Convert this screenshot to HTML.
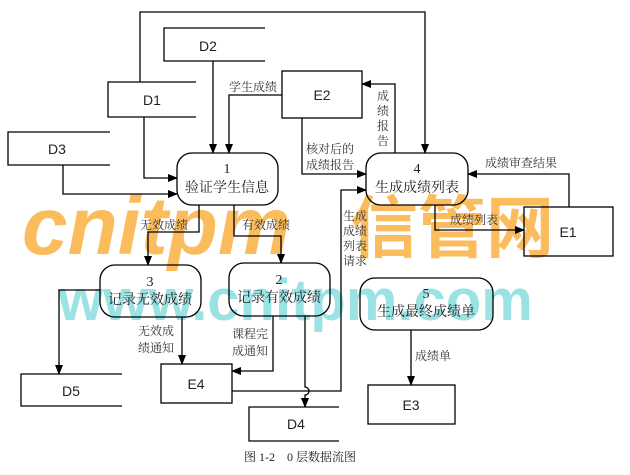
<!DOCTYPE html>
<html><head><meta charset="utf-8"><style>
html,body{margin:0;padding:0;background:#fff;}
svg{display:block;}
text{font-family:"Liberation Serif","Noto Serif CJK SC","Noto Sans CJK SC",serif;fill:#222;}
.s{font-family:"Liberation Sans",sans-serif;font-size:14px;}
.l{font-size:12px;fill:#333;}
.p{font-size:14px;}
</style></head><body>
<svg width="630" height="475" viewBox="0 0 630 475" xmlns="http://www.w3.org/2000/svg">
<defs><marker id="a" markerWidth="10" markerHeight="8" refX="9" refY="4" orient="auto" markerUnits="userSpaceOnUse"><path d="M0,0 L10,4 L0,8 z" fill="#000"/></marker></defs>
<!-- watermark -->
<text x="22" y="254" style="font-family:'Liberation Sans',sans-serif;font-weight:bold;font-style:italic;font-size:82px;fill:#f8a11a;opacity:0.7">cnitpm</text>
<text x="350" y="252" style="font-family:'Noto Sans CJK SC',sans-serif;font-weight:bold;font-size:68px;fill:#f8a11a;opacity:0.7">信管网</text>
<text x="58" y="320" style="font-family:'Liberation Sans',sans-serif;font-weight:bold;font-size:58px;fill:#38c6c8;opacity:0.5">www.cnitpm.com</text>
<g fill="none" stroke="#000" stroke-width="1.3">
<path d="M265,28 H164 V61 H265"/>
<path d="M196,82 H108 V117 H196"/>
<path d="M110,132 H8 V165 H110"/>
<path d="M122,374 H21 V406 H122"/>
<path d="M339,407 H249 V441 H339"/>
<rect x="282" y="71" width="80" height="47"/>
<rect x="524" y="207" width="89" height="49"/>
<rect x="161" y="364" width="71" height="39"/>
<rect x="368" y="385" width="87" height="39"/>
<rect x="177" y="153" width="101" height="52" rx="15"/>
<rect x="366" y="153" width="102" height="52" rx="15"/>
<rect x="100" y="265" width="101" height="52" rx="15"/>
<rect x="229" y="263" width="101" height="53" rx="15"/>
<rect x="360" y="278" width="133" height="52" rx="15"/>
<path d="M140,82 V12 H425 V153" marker-end="url(#a)"/>
<path d="M213,61 V153" marker-end="url(#a)"/>
<path d="M282,95 H229 V153" marker-end="url(#a)"/>
<path d="M144,117 V178 H177" marker-end="url(#a)"/>
<path d="M63,165 V194 H177" marker-end="url(#a)"/>
<path d="M302,118 V174 H366" marker-end="url(#a)"/>
<path d="M395,153 V84 H362" marker-end="url(#a)"/>
<path d="M569,207 V174 H468" marker-end="url(#a)"/>
<path d="M435,205 V230 H524" marker-end="url(#a)"/>
<path d="M199,205 V232 H148 V265" marker-end="url(#a)"/>
<path d="M234,205 V236 H281 V263" marker-end="url(#a)"/>
<path d="M100,290 H59 V374" marker-end="url(#a)"/>
<path d="M182,317 V364" marker-end="url(#a)"/>
<path d="M273,316 V371 H232" marker-end="url(#a)"/>
<path d="M305,316 V387 A4,4 0 0 1 305,395 V407" marker-end="url(#a)"/>
<path d="M232,391 H341 V190 H366" marker-end="url(#a)"/>
<path d="M411,330 V385" marker-end="url(#a)"/>
</g>
<text class="s" x="208" y="51" text-anchor="middle">D2</text>
<text class="s" x="152" y="105" text-anchor="middle">D1</text>
<text class="s" x="57" y="154" text-anchor="middle">D3</text>
<text class="s" x="71" y="396" text-anchor="middle">D5</text>
<text class="s" x="296" y="429" text-anchor="middle">D4</text>
<text class="s" x="322" y="100" text-anchor="middle">E2</text>
<text class="s" x="568" y="237" text-anchor="middle">E1</text>
<text class="s" x="196" y="389" text-anchor="middle">E4</text>
<text class="s" x="411" y="410" text-anchor="middle">E3</text>
<g text-anchor="middle">
<text class="p" x="227" y="173">1</text><text class="p" x="227" y="192">验证学生信息</text>
<text class="p" x="417" y="173">4</text><text class="p" x="417" y="192">生成成绩列表</text>
<text class="p" x="150" y="286">3</text><text class="p" x="150" y="304">记录无效成绩</text>
<text class="p" x="279" y="284">2</text><text class="p" x="279" y="302">记录有效成绩</text>
<text class="p" x="426" y="298">5</text><text class="p" x="426" y="316">生成最终成绩单</text>
</g>
<text class="l" x="229" y="91">学生成绩</text>
<text class="l" x="306" y="153">核对后的</text>
<text class="l" x="306" y="169">成绩报告</text>
<text class="l" x="377" y="100">成</text><text class="l" x="377" y="115">绩</text><text class="l" x="377" y="130">报</text><text class="l" x="377" y="145">告</text>
<text class="l" x="485" y="167">成绩审查结果</text>
<text class="l" x="450" y="224">成绩列表</text>
<text class="l" x="140" y="229">无效成绩</text>
<text class="l" x="242" y="229">有效成绩</text>
<text class="l" x="343" y="220">生成</text><text class="l" x="343" y="235">成绩</text><text class="l" x="343" y="250">列表</text><text class="l" x="343" y="265">请求</text>
<text class="l" x="138" y="335">无效成</text><text class="l" x="138" y="352">绩通知</text>
<text class="l" x="232" y="338">课程完</text><text class="l" x="232" y="355">成通知</text>
<text class="l" x="415" y="360">成绩单</text>
<text x="300" y="461" text-anchor="middle" style="font-size:12px">图 1-2　0 层数据流图</text>
</svg>
</body></html>
